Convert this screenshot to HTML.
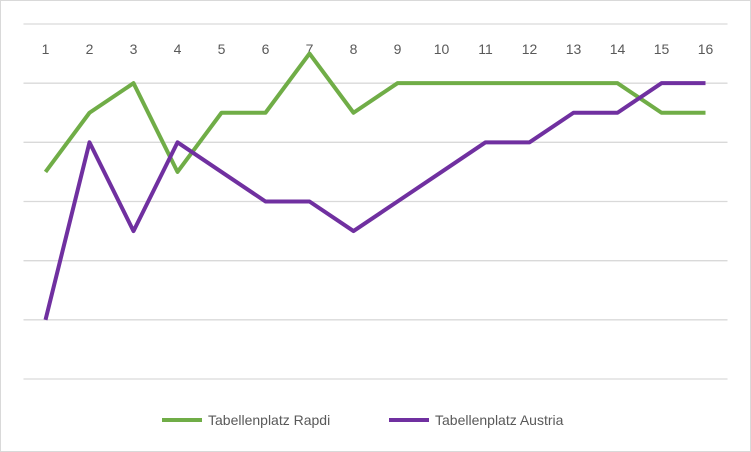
<!DOCTYPE html>
<html><head><meta charset="utf-8"><style>
html,body{margin:0;padding:0;background:#fff;}
svg{display:block;font-family:"Liberation Sans",sans-serif;}
</style></head><body>
<svg id="c" width="751" height="452">
<rect x="0.5" y="0.5" width="750" height="451" fill="#fff" stroke="#d9d9d9"/>
<g id="grid"></g><g id="xl"></g><g id="series"></g>
<g>
<line x1="162" y1="420" x2="202" y2="420" stroke="#70ad47" stroke-width="4"/>
<text x="208" y="425" font-size="14" fill="#595959">Tabellenplatz Rapdi</text>
<line x1="389" y1="420" x2="429" y2="420" stroke="#7030a0" stroke-width="4"/>
<text x="435" y="425" font-size="14" fill="#595959">Tabellenplatz Austria</text>
</g>
</svg>
<script>
const categories=["1","2","3","4","5","6","7","8","9","10","11","12","13","14","15","16"];
const rapid=[5,3,2,5,3,3,1,3,2,2,2,2,2,2,3,3];
const austria=[10,4,7,4,5,6,6,7,6,5,4,4,3,3,2,2];
const yTicks=[0,2,4,6,8,10,12];
const NS="http://www.w3.org/2000/svg";
const L=23.5,W=704,T=24,B=379,YMAX=12;
const x=i=>L+W/categories.length*(i+0.5);
const y=v=>T+(B-T)*v/YMAX;
const g=document.getElementById('grid');
yTicks.forEach(t=>{const l=document.createElementNS(NS,'line');


l.setAttribute('x1',L);l.setAttribute('x2',L+W);l.setAttribute('y1',y(t));l.setAttribute('y2',y(t));
l.setAttribute('stroke','#d9d9d9');l.setAttribute('stroke-width','1.3');g.appendChild(l);});
const xl=document.getElementById('xl');
categories.forEach((c,i)=>{const t=document.createElementNS(NS,'text');


t.setAttribute('x',x(i));t.setAttribute('y',54);t.setAttribute('text-anchor','middle');
t.setAttribute('font-size','14');t.setAttribute('fill','#595959');t.textContent=c;xl.appendChild(t);});
const s=document.getElementById('series');
[[rapid,'#70ad47','series-rapid'],[austria,'#7030a0','series-austria']].forEach(([d,col,n])=>{
const p=document.createElementNS(NS,'polyline');


p.setAttribute('points',d.map((v,i)=>x(i)+','+y(v)).join(' '));
p.setAttribute('fill','none');p.setAttribute('stroke',col);p.setAttribute('stroke-width','4');
p.setAttribute('stroke-linejoin','round');s.appendChild(p);});
</script>
</body></html>
